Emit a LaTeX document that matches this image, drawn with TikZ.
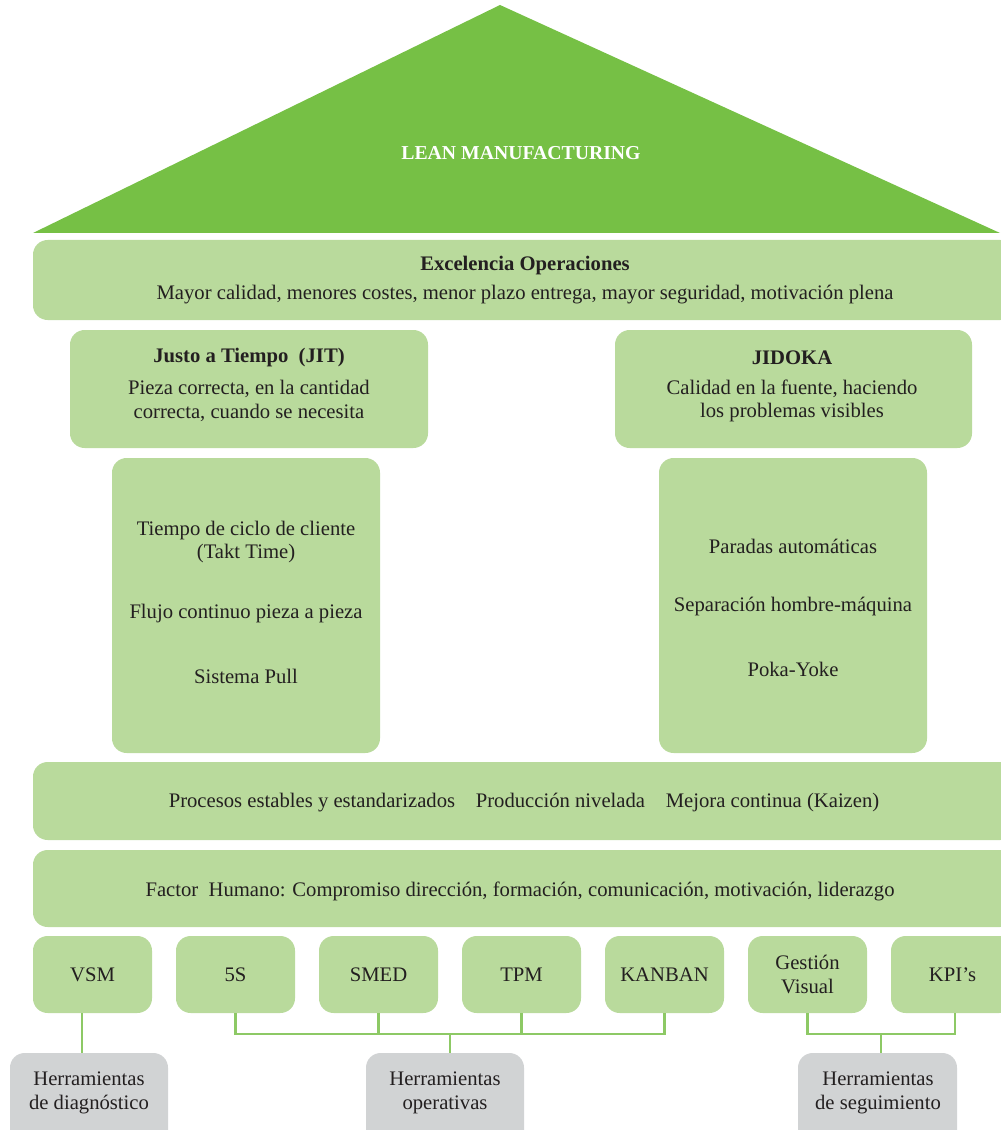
\documentclass[tikz,border=0pt]{standalone}
\usepackage{fontspec}
\setmainfont{Liberation Serif}
\definecolor{roof}{HTML}{76C045}
\definecolor{lgreen}{HTML}{B9DA9C}
\definecolor{lgray}{HTML}{D1D3D4}
\definecolor{lline}{HTML}{8DC965}
\definecolor{ink}{HTML}{231F20}
\newcommand\bx[7]{\node[#6, minimum width={(#4-#2)*0.75pt}, minimum height={(#5-#3)*0.75pt}] (#1) at ({(#2+#4)/2},{(#3+#5)/2}) {#7};}
\tikzset{
  gbox/.style={fill=lgreen, rounded corners=11pt, inner sep=0pt, align=center, text=ink},
  graybox/.style={fill=lgray, rounded corners=11pt, inner sep=0pt, align=center, text=ink},
  txt/.style={text=ink, align=center, inner sep=0pt, font=\fontsize{15.5}{17.5}\selectfont},
  bld/.style={txt, font=\fontsize{15.5}{17.5}\selectfont\bfseries},
  conn/.style={draw=lline, line width=2.2pt},
}
\begin{document}
\begin{tikzpicture}[x=0.75pt,y=-0.75pt, font=\fontsize{15.5}{17.5}\selectfont]
\useasboundingbox (0,0) rectangle (1000,1130);
% roof
\fill[roof] (33,233) -- (500,5) -- (1000,233) -- cycle;
\node[text=white, font=\fontsize{14.8}{16}\selectfont\bfseries] (lean) at (521,153) {LEAN MANUFACTURING};
% excelencia
\bx{exc}{33}{240}{1015}{320}{gbox}{}
\node[bld] (exct) at (525,266) {Excelencia Operaciones};
\node[txt] (excs) at (525,295) {Mayor calidad, menores costes, menor plazo entrega, mayor seguridad, motivación plena};
% JIT
\bx{jit}{70}{330}{428}{448}{gbox}{}
\node[bld] (jitt) at (249,358) {Justo a Tiempo\ \ (JIT)};
\node[txt] (jits) at (249,401) {Pieza correcta, en la cantidad\\correcta, cuando se necesita};
% JIDOKA
\bx{jid}{615}{330}{972}{448}{gbox}{}
\node[bld] (jidt) at (792,358) {JIDOKA};
\node[txt] (jids) at (792,401) {Calidad en la fuente, haciendo\\los problemas visibles};
% columns
\bx{colL}{112}{458}{380}{753}{gbox}{}
\node[txt] (l1) at (246,542) {Tiempo de ciclo de cliente\\(Takt Time)};
\node[txt] (l2) at (246,614) {Flujo continuo pieza a pieza};
\node[txt] (l3) at (246,676) {Sistema Pull};
\bx{colR}{659}{458}{927}{753}{gbox}{}
\node[txt] (r1) at (793,546) {Paradas automáticas};
\node[txt] (r2) at (793,607) {Separación hombre-máquina};
\node[txt] (r3) at (793,669) {Poka-Yoke};
% bars
\bx{proc}{33}{762}{1015}{840}{gbox}{}
\node[txt] (proct) at (524,803) {Procesos estables y estandarizados\quad Producción nivelada\quad Mejora continua (Kaizen)};
\bx{fact}{33}{850}{1015}{927}{gbox}{}
\node[txt] (factt) at (520,891) {Factor\ \ Humano: Compromiso dirección, formación, comunicación, motivación, liderazgo};
% tools
\bx{vsm}{33}{936}{152}{1013}{gbox}{VSM}
\bx{s5}{176}{936}{295}{1013}{gbox}{5S}
\bx{smed}{319}{936}{438}{1013}{gbox}{SMED}
\bx{tpm}{462}{936}{581}{1013}{gbox}{TPM}
\bx{kanban}{605}{936}{724}{1013}{gbox}{KANBAN}
\bx{gest}{748}{936}{867}{1013}{gbox}{Gestión\\Visual}
\bx{kpi}{891}{936}{1014}{1013}{gbox}{KPI's}
% categories
\bx{diag}{10}{1053}{168}{1145}{graybox}{}
\node[txt] (diagt) at (89,1093) {Herramientas\\de diagnóstico};
\bx{oper}{366}{1053}{524}{1145}{graybox}{}
\node[txt] (opert) at (445,1093) {Herramientas\\operativas};
\bx{seg}{798}{1053}{957}{1145}{graybox}{}
\node[txt] (segt) at (878,1093) {Herramientas\\de seguimiento};
% connectors
\coordinate (vsmc) at (82,1013);
\draw[conn] (vsmc) -- (vsmc |- diag.north);
\coordinate (hbo) at (450,1034);
\draw[conn] (s5.south) |- (kanban.south |- hbo) -- (kanban.south);
\draw[conn] (smed.south) -- (smed.south |- hbo);
\draw[conn] (tpm.south) -- (tpm.south |- hbo);
\draw[conn] (hbo) -- (hbo |- oper.north);
\coordinate (hbs) at (881,1034);
\coordinate (kpic) at (955,1013);
\draw[conn] (gest.south) |- (kpic |- hbs) -- (kpic);
\draw[conn] (hbs) -- (hbs |- seg.north);
\end{tikzpicture}
\end{document}
